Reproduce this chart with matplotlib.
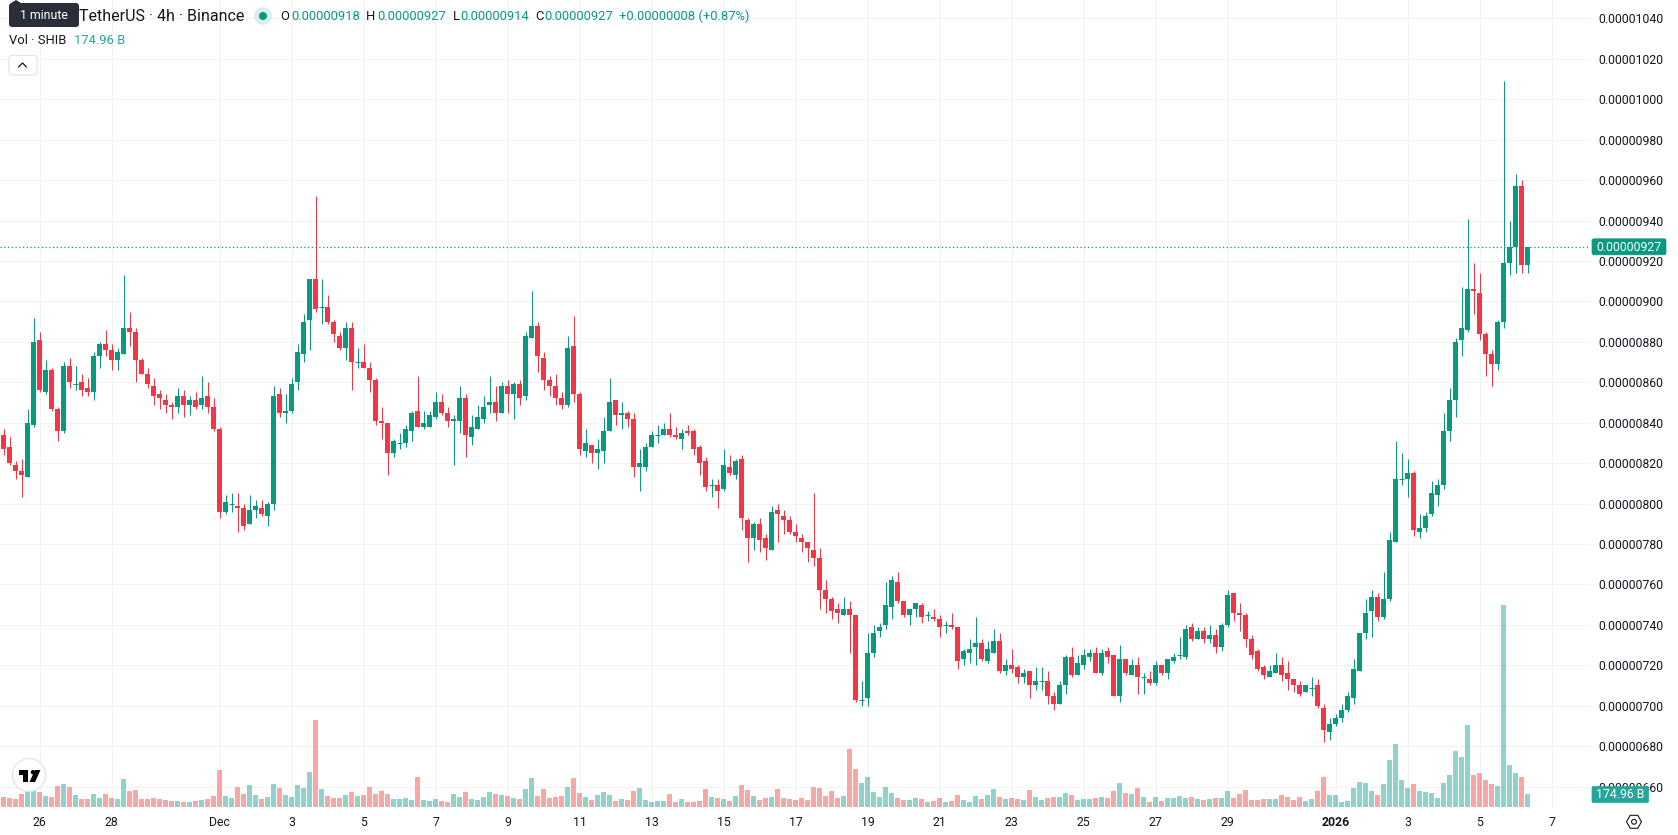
import matplotlib
matplotlib.use("Agg")
import matplotlib.pyplot as plt
from matplotlib.patches import Circle, FancyBboxPatch, Polygon, RegularPolygon

plt.rcParams['font.family'] = ['Roboto', 'DejaVu Sans']

# SHIB/USDT 4h candles, prices in units of 1e-8 USDT, volume in billions of SHIB
opens = [
    834,828,819,816,813,839,881,855,866,847, 836,868,859,860,857,855,873,879,876,871,
    874,887,885,871,864,858,854,851,849,848, 853,849,851,849,853,848,837,796,800,799,
    798,790,797,798,794,800,854,845,846,860, 874,891,911,897,897,890,883,877,887,870,
    870,867,861,841,840,825,830,830,836,846, 838,838,843,850,845,841,841,852,833,837,
    842,849,850,845,858,854,859,853,882,888, 872,861,858,852,849,878,854,826,829,825,
    826,836,851,844,845,842,818,818,828,834, 834,837,834,832,836,836,828,821,809,809,
    807,818,814,822,792,783,790,783,777,797, 794,792,786,783,781,777,773,757,753,748,
    745,748,745,703,704,726,737,740,749,761, 752,745,748,750,745,744,743,740,740,739,
    723,726,729,731,722,726,732,717,720,719, 714,717,710,712,712,705,701,710,724,715,
    720,724,726,716,727,725,705,723,715,720, 714,713,711,720,716,722,725,724,739,733,
    737,733,735,729,740,756,746,745,733,727, 719,714,716,720,716,713,710,707,709,710,
    699,687,691,694,698,704,717,736,747,754, 744,753,781,812,812,815,786,788,795,804,
    809,836,851,881,886,906,904,884,874,869, 890,919,927,957,918,
]
highs = [
    837,833,821,822,847,892,885,871,867,848, 870,872,868,864,862,875,880,886,879,877,
    913,895,887,872,867,862,856,854,850,857, 856,853,855,863,860,852,838,804,805,805,
    800,804,802,802,801,858,857,854,862,879, 894,911,952,911,903,891,885,890,890,877,
    879,870,862,848,840,832,835,839,846,863, 846,846,855,854,848,844,858,854,844,849,
    853,863,858,860,861,860,861,885,905,890, 875,863,864,855,883,893,855,837,829,832,
    843,862,851,850,846,845,827,830,836,839, 840,845,838,837,839,837,829,823,812,812,
    827,824,822,824,793,791,793,785,799,800, 797,794,790,785,781,805,778,762,754,751,
    754,752,745,712,736,740,741,761,764,766, 752,748,751,751,747,748,745,742,746,739,
    728,733,744,733,732,738,736,723,728,720, 718,717,719,719,717,707,712,725,729,725,
    728,728,729,728,729,725,730,723,723,724, 716,717,722,720,723,726,734,740,741,739,
    739,740,738,741,757,756,751,746,735,728, 720,720,726,724,722,713,712,710,714,713,
    701,694,696,701,707,723,736,753,757,756, 766,786,831,825,822,816,795,796,811,812,
    845,857,882,907,941,919,914,885,876,891, 1009,940,963,960,927,
]
lows = [
    824,819,812,803,813,838,855,854,846,831, 835,857,856,853,853,851,867,873,866,866,
    874,878,860,864,857,849,847,845,842,845, 843,844,847,847,845,836,793,795,796,786,
    787,790,793,794,789,797,843,840,845,856, 870,876,895,889,889,880,876,871,856,867,
    867,855,839,832,814,823,827,828,831,838, 837,838,842,844,838,819,835,823,829,837,
    840,845,841,845,845,842,849,851,882,865, 856,853,849,847,848,850,824,823,820,817,
    820,836,839,837,838,813,806,816,828,830, 834,833,832,827,834,824,814,806,803,798,
    806,814,812,787,771,777,776,772,777,781, 785,785,781,776,771,769,748,746,743,741,
    745,726,702,700,700,724,734,738,743,751, 744,740,744,741,742,742,734,736,738,718,
    720,721,720,722,721,726,716,715,716,711, 711,704,708,708,701,698,701,706,714,715,
    718,722,716,715,721,705,702,715,715,706, 706,710,710,715,713,721,723,723,732,733,
    731,731,726,727,739,742,737,729,723,717, 713,714,716,712,708,707,705,707,705,699,
    682,683,690,692,697,701,717,733,734,742, 743,752,781,809,803,784,783,786,794,799,
    807,831,843,873,885,894,881,863,858,866, 887,913,914,914,914,
]
closes = [
    827,820,816,814,840,880,856,866,847,836, 868,860,859,856,855,873,879,876,871,875,
    887,885,871,864,859,853,852,849,848,853, 849,851,848,852,848,837,796,801,800,798,
    789,797,799,795,800,853,845,846,859,875, 890,911,896,897,890,884,877,887,870,870,
    867,861,841,840,825,831,830,837,845,838, 840,844,850,845,841,842,852,834,838,843,
    848,850,845,858,854,859,852,883,888,873, 861,858,852,849,877,854,827,830,825,827,
    836,850,844,845,842,818,820,828,834,834, 837,834,833,835,835,827,820,808,809,806,
    819,815,821,793,783,790,782,778,796,795, 792,786,784,781,778,773,757,753,747,746,
    748,745,703,703,726,736,739,750,762,752, 745,748,751,744,745,743,739,740,739,722,
    727,728,731,723,728,732,717,720,718,714, 716,710,712,712,705,701,710,724,715,721,
    725,726,716,726,724,705,723,716,720,714, 714,711,720,716,723,724,725,738,733,737,
    733,735,729,740,755,746,745,733,725,718, 715,717,720,715,713,710,706,710,709,700,
    688,691,694,698,705,718,736,746,754,744, 753,782,812,812,815,787,788,794,805,809,
    836,851,880,887,906,905,884,874,869,890, 919,927,957,918,927,
]
volumes = [
    135,121,108,175,202,215,202,148,135,283, 310,269,162,108,108,175,121,175,121,108,
    377,215,229,108,108,121,108,94,81,81, 67,67,81,94,108,148,498,148,121,269,
    175,296,162,108,135,310,256,162,135,296, 256,471,1171,242,148,121,121,162,202,148,
    162,269,175,215,175,108,108,121,94,404, 94,81,108,81,67,175,135,202,108,94,
    135,202,175,162,148,121,108,242,390,148, 242,121,135,148,269,390,188,135,94,162,
    202,162,81,108,94,215,256,94,67,81, 81,175,67,108,67,67,81,242,135,121,
    108,81,148,296,229,148,94,121,135,242, 121,108,94,121,94,269,256,148,215,121,
    148,781,512,323,404,202,135,269,188,121, 94,94,121,108,67,81,121,67,81,162,
    94,67,148,108,162,242,135,108,121,108, 94,229,135,94,121,135,135,188,162,94,
    108,108,121,135,121,215,323,188,175,256, 135,67,135,81,121,121,148,121,135,108,
    94,108,121,121,215,121,175,229,94,94, 108,108,108,162,135,94,135,81,108,215,
    404,162,162,67,81,256,337,323,215,162, 310,633,848,363,256,310,215,202,188,121,
    323,431,754,673,1104,431,458,363,310,283, 2719,565,458,404,174.96,
]
date_positions = [6, 18, 36, 48, 60, 72, 84, 96, 108, 120, 132, 144, 156, 168, 180, 192, 204, 222, 234, 246, 258]
date_labels = ['26', '28', 'Dec', '3', '5', '7', '9', '11', '13', '15', '17', '19', '21', '23', '25', '27', '29',
               '2026', '3', '5', '7']
price_ticks = list(range(660, 1041, 20))
change_text = '+0.00000008 (+0.87%)'

GREEN = '#089981'
RED = '#F23645'
VOL_GREEN = (38/255, 166/255, 154/255, 0.5)
VOL_RED = (239/255, 83/255, 80/255, 0.5)
GRID = '#f1f2f4'
INK = '#131722'
W, H = 1678, 835
FS = 12.2 * 0.72
HEAD_FS = 13 * 0.72

fig = plt.figure(figsize=(W/100, H/100), dpi=100, facecolor='white')
ax = fig.add_axes([0, (H-808)/H, 1590/W, 808/H])
ax.set_xlim(-3.5/6, (1590-3.5)/6)
ax.set_ylim(649.4, 1049.1)
for s in ax.spines.values():
    s.set_visible(False)
ax.set_axisbelow(True)
ax.grid(True, color=GRID, linewidth=0.72)

# candles
xs = list(range(len(opens)))
colors = [GREEN if c >= o else RED for o, c in zip(opens, closes)]
ax.vlines(xs, lows, highs, colors=colors, linewidth=0.72, zorder=3)
body_x = [x for x, o, c in zip(xs, opens, closes) if o != c]
body_b = [min(o, c) for o, c in zip(opens, closes) if o != c]
body_h = [abs(o - c) for o, c in zip(opens, closes) if o != c]
body_c = [col for col, o, c in zip(colors, opens, closes) if o != c]
ax.bar(body_x, body_h, bottom=body_b, width=5/6, color=body_c, linewidth=0, zorder=4)
for x, o, c, col in zip(xs, opens, closes, colors):
    if o == c:
        ax.hlines(o, x - 2.5/6, x + 2.5/6, color=col, linewidth=0.72, zorder=4)

# current price line
ax.axhline(closes[-1], color=GREEN, linewidth=0.9, linestyle=(0, (1, 2)), zorder=2)

# volume pane shares the lower part of the same area
vol = ax.twinx()
vol.set_ylim(-13.46, 807*13.46)
vol.set_axis_off()
vol_colors = [VOL_GREEN if c >= o else VOL_RED for o, c in zip(opens, closes)]
vol.bar(xs, volumes, width=5/6, color=vol_colors, linewidth=0)

# price scale on the right, dates along the bottom
ax.yaxis.tick_right()
ax.set_yticks(price_ticks)
ax.set_yticklabels([f'{p/1e8:.8f}' for p in price_ticks], fontsize=FS, color=INK)
ax.set_xticks(date_positions)
ax.set_xticklabels(date_labels, fontsize=FS, color=INK)
ax.tick_params(axis='both', length=0)
ax.tick_params(axis='y', pad=5.8)
ax.tick_params(axis='x', pad=5.5)
for lab in ax.get_xticklabels():
    if lab.get_text() == '2026':
        lab.set_fontweight('bold')

# overlay in pixel space for legend, badges and buttons
ui = fig.add_axes([0, 0, 1, 1], facecolor='none')
ui.set_xlim(0, W)
ui.set_ylim(H, 0)
ui.set_axis_off()

fig.canvas.draw()
last_y = H - ax.transData.transform((0, closes[-1]))[1]

def price_str(p):
    return f'{p/1e8:.8f}'

# current price and volume badges
ui.add_patch(FancyBboxPatch((1592, last_y-8), 74, 16, boxstyle='round,pad=0,rounding_size=2',
                            fc=GREEN, ec=GREEN, lw=0.5))
ui.text(1629, last_y+0.3, price_str(closes[-1]), color='white', fontsize=FS, ha='center', va='center')
ui.add_patch(FancyBboxPatch((1592, 786.5), 56.5, 16, boxstyle='round,pad=0,rounding_size=1',
                            fc='#26a69a', ec='#26a69a', lw=0.5))
ui.text(1620, 795, f'{volumes[-1]:.2f} B', color='white', fontsize=FS, ha='center', va='center')

# legend row
ui.text(79, 16.5, 'TetherUS · 4h · Binance', color=INK, fontsize=16*0.72, va='center')
ui.add_patch(Circle((263, 16), 9, fc='#d9f0ec', ec='none'))
ui.add_patch(Circle((263, 16), 4, fc=GREEN, ec='none'))
OHLC_Y = 16.5
for letter, lx, val, vx in [('O', 280.5, opens[-1], 291), ('H', 366, highs[-1], 377),
                            ('L', 452.5, lows[-1], 460), ('C', 535, closes[-1], 544)]:
    ui.text(lx, OHLC_Y, letter, color=INK, fontsize=HEAD_FS, va='center')
    ui.text(vx, OHLC_Y, price_str(val), color=GREEN, fontsize=HEAD_FS, va='center')
ui.text(619, OHLC_Y, change_text, color=GREEN, fontsize=HEAD_FS, va='center')

ui.text(9, 41, 'Vol · SHIB', color=INK, fontsize=HEAD_FS, va='center')
ui.text(74, 41, f'{volumes[-1]:.2f} B', color='#26a69a', fontsize=HEAD_FS, va='center')

# collapse button
ui.add_patch(FancyBboxPatch((9, 55.5), 28, 19.5, boxstyle='round,pad=0,rounding_size=3',
                            fc='white', ec='#e0e3eb', lw=0.8))
ui.plot([18.5, 22.5, 26.5], [67, 63, 67], color=INK, lw=0.9, solid_capstyle='round')

# tooltip over the legend
ui.add_patch(Polygon([[11, 3], [16, 0], [21, 3]], fc='#2a2e39', ec='none', zorder=5))
ui.add_patch(FancyBboxPatch((9, 3), 70, 24, boxstyle='round,pad=0,rounding_size=3',
                            fc='#2a2e39', ec='none', zorder=5))
ui.text(44, 15.5, '1 minute', color='white', fontsize=FS, ha='center', va='center', zorder=6)

# logo badge
ui.add_patch(Circle((29, 775), 16.5, fc='white', ec='#e0e3eb', lw=0.9))
ui.add_patch(Polygon([[19, 770], [27.5, 770], [27.5, 782], [23, 782], [23, 774.5], [19, 774.5]], fc='black', ec='none'))
ui.add_patch(Circle((33, 772.2), 2.2, fc='black', ec='none'))
ui.add_patch(Polygon([[35, 770], [40.5, 770], [35, 782], [29.5, 782]], fc='black', ec='none'))

# settings icon
ui.add_patch(RegularPolygon((1634, 821.8), 6, radius=7.5, orientation=3.14159/6, fc='none', ec=INK, lw=0.8))
ui.add_patch(Circle((1634, 821.8), 2.4, fc='none', ec=INK, lw=0.8))

fig.savefig('out.png', dpi=100, facecolor='white')
